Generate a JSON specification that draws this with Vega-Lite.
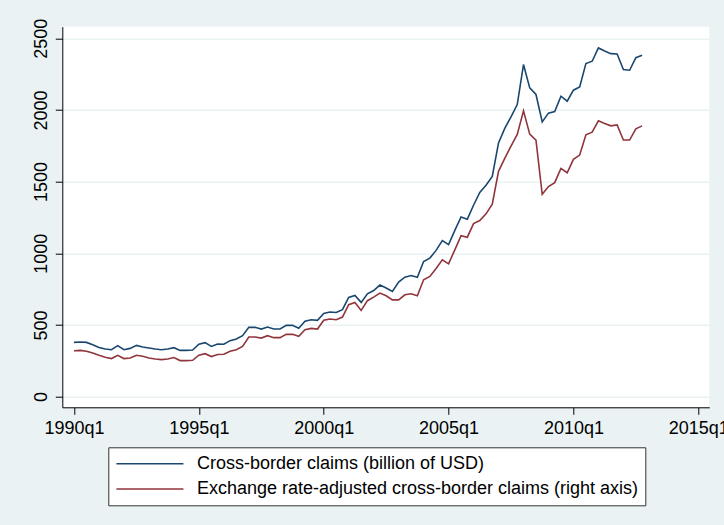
{
  "$schema": "https://vega.github.io/schema/vega-lite/v6.json",
  "description": "Cross-border claims, quarterly 1990q1-2012q4",
  "autosize": {"type": "none"},
  "padding": {"left": 62.3, "top": 26.7, "right": 14.7, "bottom": 117.7},
  "width": 647,
  "height": 380.6,
  "background": "#EAF2F3",
  "data": {
    "values": [
      {"t": 1990.00, "cbc": 378, "adj": 320},
      {"t": 1990.25, "cbc": 381, "adj": 322},
      {"t": 1990.50, "cbc": 378, "adj": 316},
      {"t": 1990.75, "cbc": 362, "adj": 304},
      {"t": 1991.00, "cbc": 343, "adj": 288},
      {"t": 1991.25, "cbc": 332, "adj": 274},
      {"t": 1991.50, "cbc": 327, "adj": 265},
      {"t": 1991.75, "cbc": 355, "adj": 288},
      {"t": 1992.00, "cbc": 327, "adj": 265},
      {"t": 1992.25, "cbc": 336, "adj": 269},
      {"t": 1992.50, "cbc": 357, "adj": 288},
      {"t": 1992.75, "cbc": 346, "adj": 281},
      {"t": 1993.00, "cbc": 339, "adj": 269},
      {"t": 1993.25, "cbc": 332, "adj": 262},
      {"t": 1993.50, "cbc": 327, "adj": 258},
      {"t": 1993.75, "cbc": 332, "adj": 262},
      {"t": 1994.00, "cbc": 341, "adj": 272},
      {"t": 1994.25, "cbc": 322, "adj": 251},
      {"t": 1994.50, "cbc": 322, "adj": 251},
      {"t": 1994.75, "cbc": 325, "adj": 253},
      {"t": 1995.00, "cbc": 365, "adj": 289},
      {"t": 1995.25, "cbc": 376, "adj": 299},
      {"t": 1995.50, "cbc": 350, "adj": 279},
      {"t": 1995.75, "cbc": 367, "adj": 293},
      {"t": 1996.00, "cbc": 365, "adj": 295},
      {"t": 1996.25, "cbc": 390, "adj": 316},
      {"t": 1996.50, "cbc": 402, "adj": 327},
      {"t": 1996.75, "cbc": 425, "adj": 350},
      {"t": 1997.00, "cbc": 483, "adj": 416},
      {"t": 1997.25, "cbc": 483, "adj": 416},
      {"t": 1997.50, "cbc": 471, "adj": 408},
      {"t": 1997.75, "cbc": 485, "adj": 425},
      {"t": 1998.00, "cbc": 471, "adj": 411},
      {"t": 1998.25, "cbc": 471, "adj": 411},
      {"t": 1998.50, "cbc": 497, "adj": 434},
      {"t": 1998.75, "cbc": 497, "adj": 434},
      {"t": 1999.00, "cbc": 476, "adj": 420},
      {"t": 1999.25, "cbc": 525, "adj": 467},
      {"t": 1999.50, "cbc": 536, "adj": 476},
      {"t": 1999.75, "cbc": 532, "adj": 471},
      {"t": 2000.00, "cbc": 580, "adj": 532},
      {"t": 2000.25, "cbc": 590, "adj": 541},
      {"t": 2000.50, "cbc": 587, "adj": 536},
      {"t": 2000.75, "cbc": 606, "adj": 555},
      {"t": 2001.00, "cbc": 692, "adj": 641},
      {"t": 2001.25, "cbc": 706, "adj": 657},
      {"t": 2001.50, "cbc": 657, "adj": 601},
      {"t": 2001.75, "cbc": 717, "adj": 669},
      {"t": 2002.00, "cbc": 740, "adj": 694},
      {"t": 2002.25, "cbc": 778, "adj": 722},
      {"t": 2002.50, "cbc": 757, "adj": 703},
      {"t": 2002.75, "cbc": 733, "adj": 675},
      {"t": 2003.00, "cbc": 799, "adj": 675},
      {"t": 2003.25, "cbc": 833, "adj": 710},
      {"t": 2003.50, "cbc": 845, "adj": 717},
      {"t": 2003.75, "cbc": 833, "adj": 703},
      {"t": 2004.00, "cbc": 942, "adj": 815},
      {"t": 2004.25, "cbc": 966, "adj": 838},
      {"t": 2004.50, "cbc": 1020, "adj": 893},
      {"t": 2004.75, "cbc": 1089, "adj": 954},
      {"t": 2005.00, "cbc": 1060, "adj": 926},
      {"t": 2005.25, "cbc": 1160, "adj": 1024},
      {"t": 2005.50, "cbc": 1253, "adj": 1122},
      {"t": 2005.75, "cbc": 1238, "adj": 1112},
      {"t": 2006.00, "cbc": 1335, "adj": 1207},
      {"t": 2006.25, "cbc": 1424, "adj": 1228},
      {"t": 2006.50, "cbc": 1474, "adj": 1275},
      {"t": 2006.75, "cbc": 1536, "adj": 1343},
      {"t": 2007.00, "cbc": 1770, "adj": 1572},
      {"t": 2007.25, "cbc": 1871, "adj": 1662},
      {"t": 2007.50, "cbc": 1952, "adj": 1748},
      {"t": 2007.75, "cbc": 2038, "adj": 1829},
      {"t": 2008.00, "cbc": 2317, "adj": 1994},
      {"t": 2008.25, "cbc": 2154, "adj": 1831},
      {"t": 2008.50, "cbc": 2108, "adj": 1790},
      {"t": 2008.75, "cbc": 1917, "adj": 1411},
      {"t": 2009.00, "cbc": 1978, "adj": 1465},
      {"t": 2009.25, "cbc": 1989, "adj": 1493},
      {"t": 2009.50, "cbc": 2096, "adj": 1592},
      {"t": 2009.75, "cbc": 2061, "adj": 1562},
      {"t": 2010.00, "cbc": 2138, "adj": 1655},
      {"t": 2010.25, "cbc": 2161, "adj": 1685},
      {"t": 2010.50, "cbc": 2324, "adj": 1827},
      {"t": 2010.75, "cbc": 2340, "adj": 1845},
      {"t": 2011.00, "cbc": 2433, "adj": 1924},
      {"t": 2011.25, "cbc": 2412, "adj": 1906},
      {"t": 2011.50, "cbc": 2393, "adj": 1889},
      {"t": 2011.75, "cbc": 2391, "adj": 1896},
      {"t": 2012.00, "cbc": 2282, "adj": 1790},
      {"t": 2012.25, "cbc": 2277, "adj": 1790},
      {"t": 2012.50, "cbc": 2365, "adj": 1868},
      {"t": 2012.75, "cbc": 2382, "adj": 1889}
    ]
  },
  "transform": [
    {"fold": ["cbc", "adj"], "as": ["series", "value"]}
  ],
  "mark": {"type": "line", "strokeWidth": 1.6, "clip": true},
  "encoding": {
    "x": {
      "field": "t",
      "type": "quantitative",
      "scale": {"domain": [1989.531, 2015.441], "nice": false, "zero": false},
      "axis": {
        "title": null,
        "grid": false,
        "values": [1990, 1995, 2000, 2005, 2010, 2015],
        "labelExpr": "datum.value + 'q1'",
        "labelPadding": 5,
        "labelFlush": false,
        "labelOverlap": false
      }
    },
    "y": {
      "field": "value",
      "type": "quantitative",
      "scale": {"domain": [-75, 2581], "nice": false, "zero": false},
      "axis": {
        "title": null,
        "values": [0, 500, 1000, 1500, 2000, 2500],
        "format": "d",
        "labelAngle": 270,
        "labelAlign": "center",
        "labelBaseline": "bottom",
        "labelPadding": 5
      }
    },
    "color": {
      "field": "series",
      "type": "nominal",
      "sort": ["cbc", "adj"],
      "scale": {"domain": ["cbc", "adj"], "range": ["#1a476f", "#90353b"]},
      "legend": {
        "title": null,
        "orient": "none",
        "legendX": 46,
        "legendY": 420.6,
        "symbolType": "M-1,0H7",
        "symbolSize": 280.6,
        "symbolStrokeWidth": 1.5,
        "symbolFillColor": "transparent",
        "labelOffset": 62.6,
        "labelExpr": "datum.value == 'cbc' ? 'Cross-border claims (billion of USD)' : 'Exchange rate-adjusted cross-border claims (right axis)\u00a0\u00a0\u00a0\u00a0\u00a0\u00a0'"
      }
    }
  },
  "config": {
    "font": "Liberation Sans",
    "view": {"stroke": null, "fill": "white"},
    "axis": {
      "labelFont": "Liberation Sans",
      "labelFontSize": 18,
      "labelColor": "black",
      "domainColor": "black",
      "domainWidth": 1,
      "tickColor": "black",
      "tickWidth": 1,
      "tickSize": 7,
      "gridColor": "#EAF2F3",
      "gridWidth": 1.5
    },
    "legend": {
      "labelFont": "Liberation Sans",
      "labelFontSize": 18,
      "labelColor": "black",
      "labelLimit": 0,
      "strokeColor": "#333333",
      "fillColor": "white",
      "padding": 7,
      "rowPadding": 6.3
    }
  }
}
